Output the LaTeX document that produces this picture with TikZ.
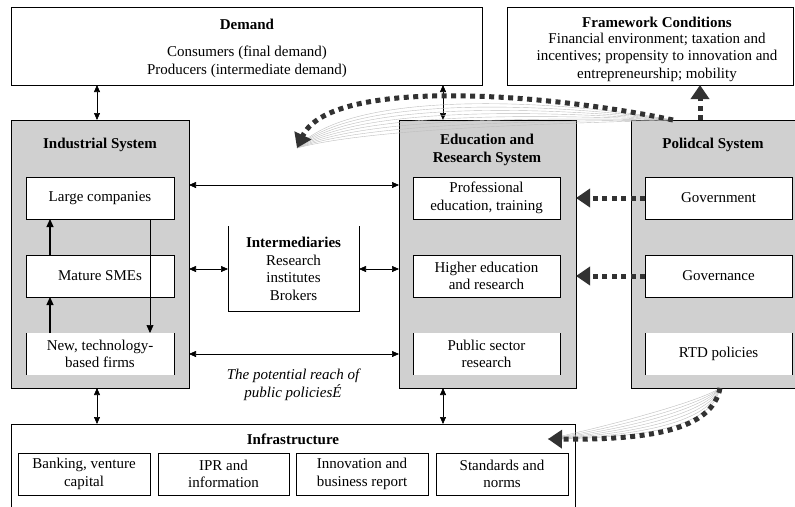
\documentclass[tikz,border=0pt]{standalone}
\usepackage{fontspec}
\setmainfont{Liberation Serif}
\usetikzlibrary{arrows.meta,calc}
\definecolor{sysgray}{RGB}{208,208,208}
\definecolor{dotcol}{RGB}{50,50,50}
\definecolor{fancol}{RGB}{190,190,190}
\begin{document}
\begin{tikzpicture}[x=1pt,y=-1pt,
  every node/.style={font=\fontsize{15}{17.5}\selectfont, inner sep=0pt, outer sep=0pt},
  plainbox/.style={draw, line width=0.9pt, fill=white},
  sysbox/.style={draw, line width=0.9pt, fill=sysgray},
  sidebox/.style={fill=white, minimum width=148pt, minimum height=42pt, align=center},
  subbox/.style={plainbox, minimum width=148pt, minimum height=42pt, align=center},
  infbox/.style={plainbox, minimum width=132pt, minimum height=42pt, align=center},
  ttl/.style={font=\fontsize{15}{17.5}\selectfont\bfseries, align=center},
  txt/.style={align=center},
  sideline/.style={line width=0.9pt},
  biarr/.style={line width=0.6pt, {Triangle[length=7pt,width=6pt]}-{Triangle[length=7pt,width=6pt]}},
  uparr/.style={line width=1.2pt, -{Triangle[length=8pt,width=7pt]}},
  thinarr/.style={line width=0.6pt, -{Triangle[length=8pt,width=7pt]}},
  dotarr/.style={dotcol, line width=5pt, dash pattern=on 5pt off 4.5pt, -{Triangle[length=14pt,width=18pt]}},
  fan/.style={fancol, line width=0.4pt},
]
\clip (0,0) rectangle (795,506);
\fill[white] (0,0) rectangle (795,506);

% top boxes
\node[plainbox, minimum width=471pt, minimum height=78pt] (demand) at (246.5,46) {};
\node[ttl] (demandt) at (247,24) {Demand};
\node[txt] (demandb) at (247,62) {Consumers (final demand)\\Producers (intermediate demand)};

\node[plainbox, minimum width=286pt, minimum height=78pt] (fw) at (650,46) {};
\node[ttl] (fwt) at (657,22) {Framework Conditions};
\node[txt] (fwb) at (657,57) {Financial environment; taxation and\\incentives; propensity to innovation and\\entrepreneurship; mobility};

% system boxes
\node[sysbox, minimum width=178pt, minimum height=268pt] (ind) at (100,254) {};
\node[sysbox, minimum width=177pt, minimum height=268pt] (edu) at (487.5,254) {};
\node[sysbox, minimum width=169pt, minimum height=268pt] (pol) at (715.5,254) {};

\node[ttl] (indt) at (100,145) {Industrial System};
\node[ttl] (edut) at (487,150) {Education and\\Research System};
\node[ttl] (polt) at (713,145) {Polidcal System};

% industrial sub boxes
\node[subbox] (large) at (100,198) {Large companies};
\node[subbox] (mature) at (100,276) {Mature SMEs};
\node[sidebox] (newf) at (100,354) {New, technology-\\based firms};
\draw[sideline] (newf.north west) -- (newf.south west) (newf.north east) -- (newf.south east);

% education sub boxes
\node[subbox, minimum width=147pt] (prof) at (486.5,198) {Professional\\education, training};
\node[subbox, minimum width=147pt] (higher) at (486.5,276) {Higher education\\and research};
\node[sidebox, minimum width=147pt] (public) at (486.5,354) {Public sector\\research};
\draw[sideline] (public.north west) -- (public.south west) (public.north east) -- (public.south east);

% political sub boxes
\node[subbox, minimum width=147pt] (gov) at (718.5,198) {Government};
\node[subbox, minimum width=147pt] (govn) at (718.5,276) {Governance};
\node[sidebox, minimum width=147pt] (rtd) at (718.5,354) {RTD policies};
\draw[sideline] (rtd.north west) -- (rtd.south west) (rtd.north east) -- (rtd.south east);

% intermediaries
\node[minimum width=131pt, minimum height=85pt] (inter) at (293.5,268.5) {};
\draw[sideline] (inter.north west) -- (inter.south west) -- (inter.south east) -- (inter.north east);
\node[txt] (intert) at (293.5,269) {{\bfseries Intermediaries}\\Research\\institutes\\Brokers};

\node[txt, font=\fontsize{15}{17.5}\selectfont\itshape] (reach) at (293,385) {The potential reach of\\public policiesÉ};

% infrastructure
\node[plainbox, minimum width=564pt, minimum height=100pt] (infra) at (293,474) {};
\node[ttl] (infrat) at (293,439) {Infrastructure};
\node[infbox] (bank) at (84,474) {Banking, venture\\capital};
\node[infbox, minimum width=131pt] (ipr) at (223.5,474) {IPR and\\information};
\node[infbox] (innov) at (362,474) {Innovation and\\business report};
\node[infbox] (stand) at (502,474) {Standards and\\norms};

% coordinates for connector rows
\coordinate (r1) at (0,185);
\coordinate (r2) at (0,269);
\coordinate (r3) at (0,354);
\coordinate (bigtip) at (297,148);
\coordinate (inftip) at (548,439);

% vertical bi-arrows
\draw[biarr] ([xshift=-3pt]demand.south -| ind.north) -- ([xshift=-3pt]ind.north);
\draw[biarr] ([xshift=44pt]edu.north west |- demand.south) -- ([xshift=44pt]edu.north west);
\draw[biarr] ([xshift=-3pt]ind.south) -- ([xshift=-3pt]ind.south |- infra.north);
\draw[biarr] ([xshift=44pt]edu.south west) -- ([xshift=44pt]edu.south west |- infra.north);

% horizontal bi-arrows
\draw[biarr] (ind.east |- r1) -- (edu.west |- r1);
\draw[biarr] (ind.east |- r2) -- (inter.west |- r2);
\draw[biarr] (inter.east |- r2) -- (edu.west |- r2);
\draw[biarr] (ind.east |- r3) -- (edu.west |- r3);

% inside industrial
\draw[uparr] ([xshift=24pt]newf.north west) -- ([xshift=24pt]mature.south west);
\draw[uparr] ([xshift=24pt]mature.north west) -- ([xshift=24pt]large.south west);
\draw[thinarr] ([xshift=-24pt]large.south east) -- ([xshift=-24pt]newf.north east);

% fan lines
\foreach \k in {0,...,7}
  \draw[fan] ([xshift=42pt]pol.north west) .. controls ({560-6*\k},{100+3.5*\k}) and ({350+2*\k},{88+6*\k}) .. (bigtip);
\foreach \k in {0,...,6}
  \draw[fan] ([xshift=89pt]pol.south west) .. controls ({700+2*\k},{402+4*\k}) and ({600+8*\k},{428+1.7*\k}) .. (inftip);

% thick dotted arrows
\draw[dotarr] (gov.west) -- (edu.east |- gov.west);
\draw[dotarr] (govn.west) -- (edu.east |- govn.west);
\draw[dotarr] ([xshift=69pt]pol.north west) -- ([xshift=69pt]pol.north west |- fw.south);
\draw[dotarr] ([xshift=42pt]pol.north west) .. controls (540,92) and (330,78) .. (bigtip);
\draw[dotarr] ([xshift=89pt]pol.south west) .. controls (712,430) and (650,440) .. (inftip);
\end{tikzpicture}
\end{document}
